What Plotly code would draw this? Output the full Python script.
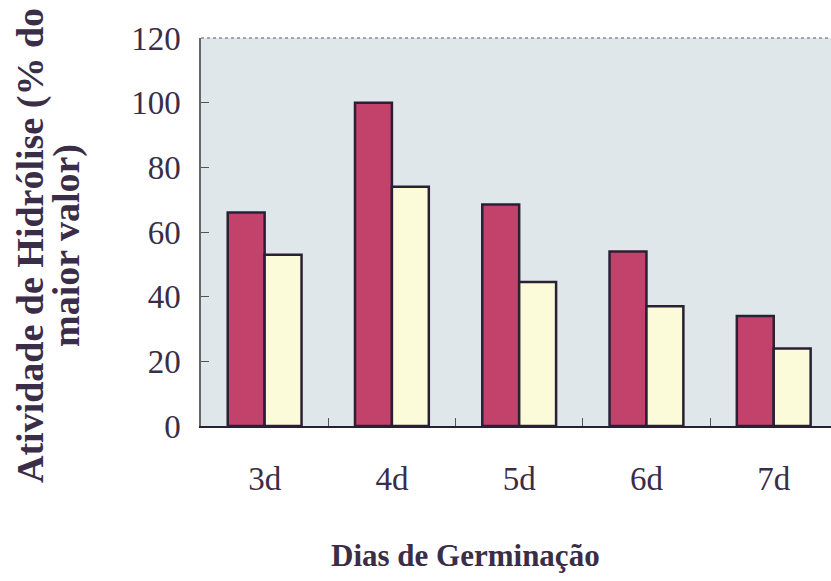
import plotly.graph_objects as go

# Germination days and relative hydrolysis activity (% of the highest value)
dias = ["3d", "4d", "5d", "6d", "7d"]
serie_a = [66, 100, 68.5, 54, 34]
serie_b = [53, 74, 44.5, 37, 24]
y_ticks = [0, 20, 40, 60, 80, 100, 120]

ink = "#2a2035"
text_col = "#3a2d48"
serif = "Liberation Serif, Times New Roman, serif"

# plot-area geometry in pixels
L, R, T, B = 201, 831, 38, 426
W, H = R - L, B - T


def px_x(p):
    return (p - L) / W


def px_y(p):
    return (B - p) / H


fig = go.Figure()
fig.add_trace(go.Bar(x=dias, y=serie_a, marker=dict(color="#c2426c", line=dict(color=ink, width=2.5))))
fig.add_trace(go.Bar(x=dias, y=serie_b, marker=dict(color="#fcfbd9", line=dict(color=ink, width=2.5))))

fig.update_layout(
    width=831, height=581,
    margin=dict(l=L, r=831 - R, t=T, b=581 - B),
    paper_bgcolor="white",
    plot_bgcolor="#e0e7ea",
    barmode="group",
    bargap=0.42,
    bargroupgap=0,
    showlegend=False,
    font=dict(family=serif, color=ink),
)

fig.update_xaxes(
    range=[-0.5, 4.45],
    showline=True, linecolor=ink, linewidth=2,
    ticks="inside", tickson="boundaries", ticklen=8, tickcolor="#555",
    tickfont=dict(size=33, family=serif, color=text_col),
    ticklabelstandoff=22,
    showgrid=False,
)
fig.update_yaxes(
    range=[0, 120], tickvals=y_ticks,
    showline=True, linecolor="#666", linewidth=1.5,
    ticks="inside", ticklen=8, tickcolor="#555",
    tickfont=dict(size=33, family=serif, color=text_col),
    ticklabelstandoff=12,
    showgrid=False, zeroline=False,
)

# dashed upper border of the plotting area
fig.add_shape(type="line", xref="paper", yref="paper", x0=0, x1=1, y0=1, y1=1,
              line=dict(color="#8a8a9a", width=1.5, dash="dot"))

# y-axis title, two centred lines
for txt, xc in [("<b>Atividade de Hidrólise (% do</b>", 30), ("<b>maior valor)</b>", 66)]:
    fig.add_annotation(
        text=txt, xref="paper", yref="paper", x=px_x(xc), y=px_y(246),
        xanchor="center", yanchor="middle", textangle=-90, showarrow=False,
        font=dict(size=38, family=serif, color=text_col),
    )

fig.add_annotation(
    text="<b>Dias de Germinação</b>", xref="paper", yref="paper",
    x=px_x(465), y=px_y(555), xanchor="center", yanchor="middle", showarrow=False,
    font=dict(size=31, family=serif, color=text_col),
)

fig.write_html("out.html")
